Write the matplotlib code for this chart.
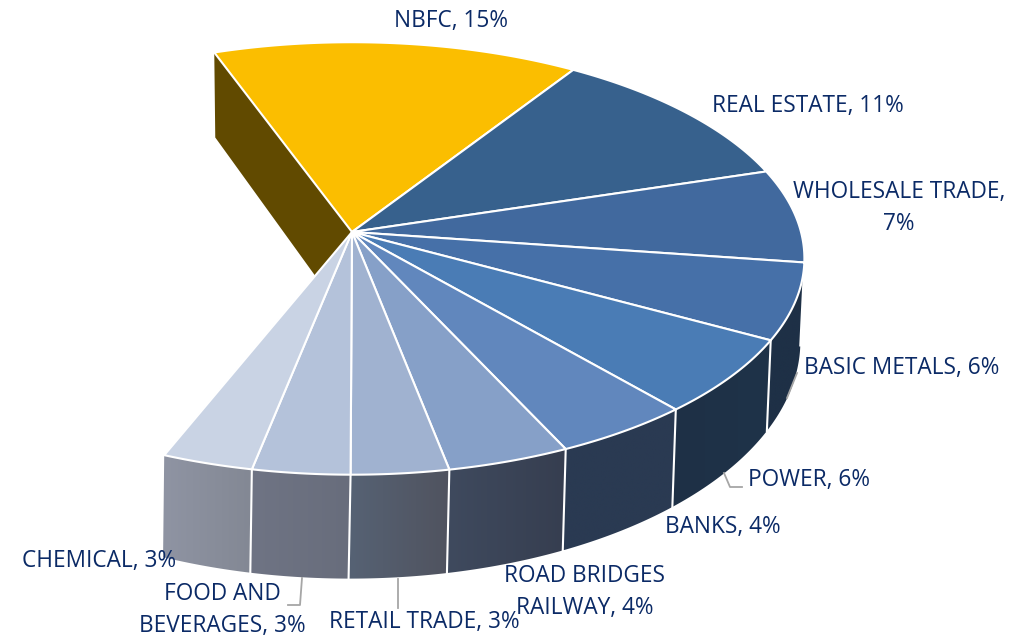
import numpy as np
import matplotlib
matplotlib.use('Agg')
import matplotlib.pyplot as plt
from matplotlib.patches import Polygon
from matplotlib.colors import to_rgb

sectors = ['NBFC', 'REAL ESTATE', 'WHOLESALE TRADE', 'BASIC METALS', 'POWER', 'BANKS',
           'ROAD BRIDGES RAILWAY', 'RETAIL TRADE', 'FOOD AND BEVERAGES', 'CHEMICAL']
# shares, the labels show them rounded
shares = [14.7, 11.1, 7.0, 5.7, 5.7, 4.4, 3.9, 3.1, 3.1, 2.9]
top_colors = ['#fbbe00', '#37618d', '#41699e', '#4670a8', '#4a7cb5',
              '#6187bd', '#86a0c8', '#a0b2d0', '#b4c2da', '#c9d3e4']
wall_left = ['#614a00', '#1e3046', '#1e3046', '#1e3046', '#1e3046',
             '#2a3a52', '#3f4a5e', '#566274', '#6f7484', '#8f94a3']
wall_right = ['#614a00', '#1e3046', '#1e3046', '#1e3046', '#1f3349',
              '#2a3a52', '#363e50', '#50535f', '#686d7c', '#838894']

text_color = '#0b2a66'
line_color = '#a6a6a6'
start_angle = -20.0

# perspective of the disc: apex, half axes in pixels and the tilt factor
TILT = 0.1223
TOP = (352, 232, 449, 213)
BOTTOM = (350, 312, 447, 234)


def rim(plane, theta):
    cx, cy, a, b = plane
    t = np.radians(theta)
    d = 1 + TILT * np.cos(t)
    return np.column_stack([cx + a * np.sin(t) / d, cy - b * np.cos(t) / d])


fig = plt.figure(figsize=(10.09, 6.37), dpi=100)
ax = fig.add_axes([0, 0, 1, 1])

edges = start_angle + 3.6 * np.concatenate([[0], np.cumsum(shares)])

# cut face behind the first slice
top_corner = rim(TOP, edges[0])[0]
cut = [top_corner, top_corner + [1, 85], (BOTTOM[0], BOTTOM[1] + 12), TOP[:2]]
ax.add_patch(Polygon(cut, closed=True, fc=wall_left[0], ec='none', zorder=1))

# outer wall, one gradient per slice (first slice's wall is out of sight)
for i in range(1, len(shares)):
    th = np.linspace(edges[i], edges[i + 1], 60)
    pts = np.vstack([rim(TOP, th), rim(BOTTOM, th[::-1])])
    x0, x1 = pts[:, 0].min(), pts[:, 0].max()
    c0 = np.array(to_rgb(wall_left[i]))
    c1 = np.array(to_rgb(wall_right[i]))
    grad = np.linspace(0, 1, 64)[None, :, None] * (c1 - c0) + c0
    im = ax.imshow(grad, extent=[x0, x1, pts[:, 1].max(), pts[:, 1].min()],
                   aspect='auto', zorder=2, interpolation='bilinear')
    wall = Polygon(pts, closed=True, fc='none', ec='none', transform=ax.transData)
    ax.add_patch(wall)
    im.set_clip_path(wall)
    if 95 < edges[i] < 200:
        ax.plot(*np.vstack([rim(TOP, edges[i:i + 1]), rim(BOTTOM, edges[i:i + 1])]).T,
                color='white', lw=1.5, zorder=3)

# top faces
for i in range(len(shares)):
    th = np.linspace(edges[i], edges[i + 1], 60)
    pts = np.vstack([TOP[:2], rim(TOP, th)])
    ax.add_patch(Polygon(pts, closed=True, fc=top_colors[i], ec='white', lw=1.5,
                         joinstyle='round', zorder=4))

# leader lines
leaders = [[(302, 578), (300, 605), (288, 605)],
           [(398, 579), (398, 608)],
           [(724, 473), (730, 487), (742, 487)],
           [(797, 373), (787, 398)]]
for seg in leaders:
    ax.plot(*zip(*seg), color=line_color, lw=1.3, zorder=5)

labels = ['NBFC, 15%', 'REAL ESTATE, 11%', 'WHOLESALE TRADE,\n7%', 'BASIC METALS, 6%', 'POWER, 6%',
          'BANKS, 4%', 'ROAD BRIDGES\nRAILWAY, 4%', 'RETAIL TRADE, 3%', 'FOOD AND\nBEVERAGES, 3%', 'CHEMICAL, 3%']
label_x = [451, 808, 899, 902, 809, 723, 585, 424, 222, 99]
label_y = [21, 106, 208, 368, 480, 527, 592, 622, 610, 561]
for s, x, y in zip(labels, label_x, label_y):
    ax.text(x, y, s, ha='center', va='center', multialignment='center', fontsize=16.3,
            family='Open Sans', color=text_color, linespacing=1.42, zorder=6)

ax.set_xlim(0, 1009)
ax.set_ylim(637, 0)
ax.axis('off')
fig.savefig('out.png', dpi=100)
